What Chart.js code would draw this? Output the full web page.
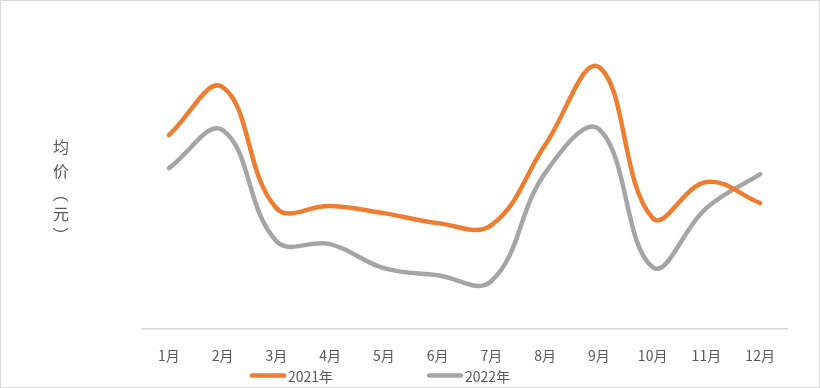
<!DOCTYPE html>
<html>
<head>
<meta charset="utf-8">
<script src="https://cdn.jsdelivr.net/npm/chart.js@4"></script>
<style>
  body { margin: 0; background: #fff; }
  #wrap { width: 820px; height: 388px; box-sizing: border-box; border: 1px solid #d9d9d9; }
  canvas { display: block; }
</style>
</head>
<body>
<div id="wrap"><canvas id="my-chart" width="818" height="386"></canvas></div>
<script>
'use strict';

// *** DATA ***

let months = ['1月', '2月', '3月', '4月', '5月', '6月', '7月', '8月', '9月', '10月', '11月', '12月'];
let seriesNames = ['2021年', '2022年'];
let prices2021 = [194, 242, 121, 123, 116, 106, 104, 184, 262, 111, 147, 126];
let prices2022 = [161, 199, 88, 85, 61, 54, 48, 156, 200, 62, 121, 155];
let yTitle = ['均', '价', '（', '元', '）'];

let orange = '#ED7D31';
let gray = '#A5A5A5';
let textColor = '#595959';
let fontFamily = '"Noto Sans CJK SC", "Noto Sans", sans-serif';

// *** PLUGINS ***

// vertical y axis title, one character per row
let yTitlePlugin = {
  id: 'yTitle',
  afterDraw(chart) {
    let ctx = chart.ctx;
    let rows = [146, 170, 193, 213, 234];
    ctx.save();
    ctx.fillStyle = textColor;
    ctx.font = '16px ' + fontFamily;
    ctx.textAlign = 'center';
    ctx.textBaseline = 'middle';
    for (let i = 0; i < yTitle.length; i++) {
      ctx.save();
      ctx.translate(60, rows[i]);
      if (yTitle[i] === '（' || yTitle[i] === '）') {
        ctx.rotate(Math.PI / 2);
      }
      ctx.fillText(yTitle[i], 0, 0);
      ctx.restore();
    }
    ctx.restore();
  }
};

// legend under the axis, spread like the original
let legendPlugin = {
  id: 'bottomLegend',
  afterDraw(chart) {
    let ctx = chart.ctx;
    let items = [
      { x: 249, color: orange, text: seriesNames[0] },
      { x: 426, color: gray, text: seriesNames[1] }
    ];
    let y = 374.5;
    ctx.save();
    ctx.font = '14px ' + fontFamily;
    ctx.textBaseline = 'middle';
    ctx.textAlign = 'left';
    items.forEach(item => {
      ctx.strokeStyle = item.color;
      ctx.lineWidth = 4.5;
      ctx.lineCap = 'round';
      ctx.beginPath();
      ctx.moveTo(item.x + 2, y);
      ctx.lineTo(item.x + 34, y);
      ctx.stroke();
      ctx.fillStyle = textColor;
      ctx.fillText(item.text, item.x + 38, y + 1);
    });
    ctx.restore();
  }
};

// *** CHART ***

let canvasElem = document.getElementById('my-chart');

new Chart(canvasElem, {
  type: 'line',
  data: {
    labels: months,
    datasets: [{
      label: seriesNames[0],
      data: prices2021,
      borderColor: orange,
      backgroundColor: orange,
      borderWidth: 4.5,
      borderCapStyle: 'round',
      pointRadius: 0,
      tension: 0.4
    },
    {
      label: seriesNames[1],
      data: prices2022,
      borderColor: gray,
      backgroundColor: gray,
      borderWidth: 4.5,
      borderCapStyle: 'round',
      pointRadius: 0,
      tension: 0.4
    }]
  },
  options: {
    responsive: false,
    animation: false,
    layout: {
      padding: { left: 141, right: 32, top: 27, bottom: 5 }
    },
    plugins: {
      legend: { display: false },
      tooltip: { enabled: false }
    },
    scales: {
      x: {
        offset: true,
        grid: { display: false, drawTicks: false },
        border: { display: true, color: '#d9d9d9', width: 1.5 },
        ticks: {
          color: textColor,
          padding: 18,
          maxRotation: 0,
          autoSkip: false,
          font: { size: 14, family: fontFamily }
        }
      },
      y: {
        display: false,
        min: 0,
        max: 301
      }
    }
  },
  plugins: [yTitlePlugin, legendPlugin]
});
</script>
</body>
</html>
